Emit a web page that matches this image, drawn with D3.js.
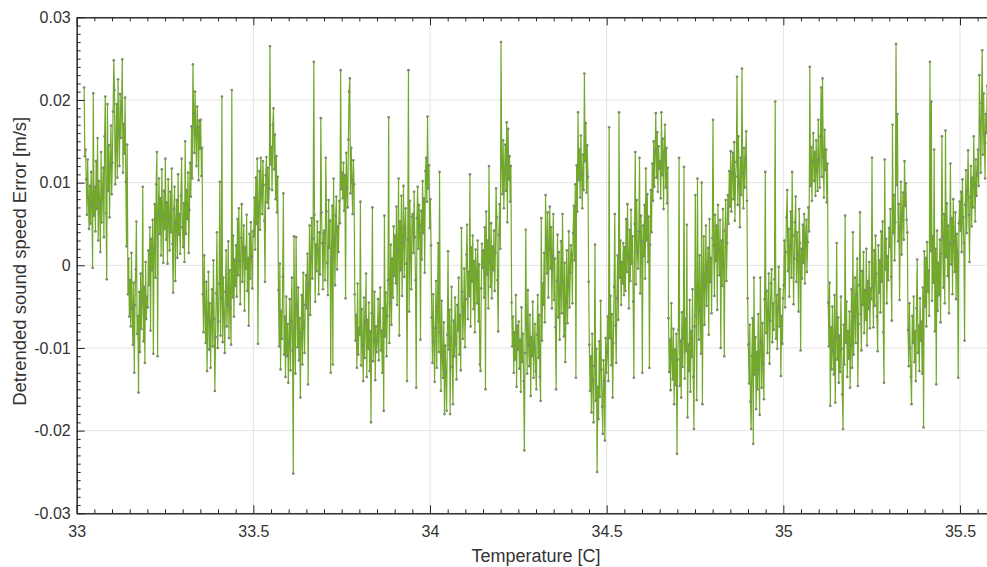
<!DOCTYPE html>
<html>
<head>
<meta charset="utf-8">
<script src="https://cdn.jsdelivr.net/npm/d3@7/dist/d3.min.js"></script>
<style>
  body { margin: 0; background: #fff; }
  svg { display: block; }
  text { font-family: "Liberation Sans", Arial, Helvetica, sans-serif; }
</style>
</head>
<body>
<svg id="chart" width="987" height="567"></svg>
<script>
// Temperature sweep: first sample and spacing between samples [°C]
const tempStart = 33.021;
const tempStep = 0.002;

// Detrended sound speed error per sample, in mm/s (one row ≈ 0.05 °C)
const speedErrorMm = [
  21.5, 13.2, 14.0, 10.4, 6.1, 12.8, 8.2, 4.4, 9.6, 5.0, 11.3, 7.2, -0.3, 20.8, 6.0,
  9.5, 4.1, 12.6, 6.8, 15.4, 3.0, 10.2, 7.5, 1.6, 13.7, 5.2, 8.9, 11.8, 3.4, 15.6, 20.4, 6.3, -1.7, 19.5, 9.0, 14.5, 5.8, 12.1, 16.9, 8.6,
  12.4, 18.6, 24.8, 21.2, 9.8, 14.1, 19.5, 10.6, 22.5, 16.3, 12.0, 20.7, 15.4, 18.9, 24.9, 11.2, 17.1, 13.5, 20.3, 10.1, 2.3, 14.6, -3.5, 0.8, -6.2,
  -1.8, -7.4, 1.5, -5.2, -9.6, -2.1, -13.0, -4.8, -0.5, 5.3, -8.3, -6.1, -15.4, -3.2, -10.5, -1.0, -7.7, -4.4, 9.5, -9.2, -2.6, -11.8, 0.4, -6.5, -3.8,
  -5.1, 1.8, -2.4, 4.6, -7.9, 3.2, -0.6, 5.5, -10.7, 2.1, 7.4, -1.5, 9.8, 13.7, -11.0, 6.2, 10.5, 3.8, 8.1, 1.2, 11.6, 5.9, 0.3, 9.0, 4.4,
  12.9, 3.1, 7.6, 0.2, 10.4, 5.5, 1.8, 8.9, 4.0, 11.7, 2.6, -3.3, 6.8, 9.5, -1.9, 5.1, 7.9, 0.9, 11.0, 3.7, 6.2, 1.4, 8.4, 12.9, 4.6,
  2.2, 7.5, 0.4, 15.0, 3.8, 9.1, 5.6, 11.2, 1.5, 6.7, 12.4, 8.3, 16.8, 10.5, 24.3, 18.4, 13.6, 21.0, 15.9, 12.0, 19.2, 16.7, 10.3, 17.5, 14.1,
  17.6, 10.8, 14.2, -3.5, -8.1, 1.2, -5.7, -9.4, -2.0, -12.8, -6.3, -0.8, -10.2, -4.6, -12.4, -7.0, -2.9, -9.8, 0.6, -6.5, -15.2, -8.7, -3.4, 4.0, -10.0,
  -6.8, -2.2, 10.1, -8.5, -4.0, 20.4, -9.3, -1.5, -6.0, -10.6, -3.2, 1.8, -7.4, -4.7, 2.9, -8.8, -0.6, -5.1, -9.6, 21.2, -3.9, 3.6, -6.2, 0.7, -2.5,
  2.4, -3.8, 5.6, -1.2, 6.9, 0.5, -4.7, 3.3, 7.4, -2.0, 1.7, 4.8, -5.5, 2.2, -0.4, 6.1, -3.1, 0.9, -7.3, 3.8, -1.6, 5.2, 1.0, -2.8, 4.1,
  3.5, 8.2, 1.9, 10.6, 5.0, 12.9, -9.5, 7.1, 11.4, 4.3, 13.0, 8.8, 6.2, 12.6, 9.7, 5.4, -2.0, 10.9, 13.1, 7.6, 11.8, 6.9, 9.3, 26.5, 12.2,
  14.3, 9.1, 17.0, 19.0, 11.6, 15.8, 8.0, 13.2, 6.4, 10.7, -3.0, -9.8, 0.2, -12.6, -5.5, -8.9, -1.4, 8.7, -10.8, -6.2, -13.5, -3.8, -11.0, -7.1, -14.2,
  -9.4, -4.1, -12.7, -6.8, -1.5, -10.3, -25.2, 3.5, -7.6, -13.1, 3.4, -5.0, -9.9, -2.7, -11.5, -6.4, -16.0, -8.2, -3.6, -12.0, -0.9, -7.3, -10.6, -4.8, -1.2,
  -5.2, 1.4, -14.4, -2.3, 4.8, -6.0, 0.9, 5.7, -1.6, 3.2, 24.6, 6.1, -4.4, 2.5, -0.7, 5.3, 1.8, -3.5, 4.0, -1.1, 17.8, 6.4, 2.7, -2.9, 3.9,
  4.2, -1.8, 13.0, 6.5, 0.3, -3.6, 7.9, 2.1, 5.4, -13.0, 1.0, 7.2, -12.0, 10.5, 3.3, -2.4, 6.0, 8.3, -0.5, 4.7, 1.6, 7.8, 5.1, 23.6, 9.2,
  11.2, 8.1, 12.4, 6.6, 10.9, -4.0, 13.6, 9.4, 7.0, 15.2, 21.0, 22.6, 8.7, 14.2, 10.1, 6.2, 12.7, 9.8, -3.5, -9.1, -6.0, -12.4, -2.2, -10.8, -7.6,
  -8.4, 7.7, -12.1, -5.3, -9.7, -14.0, -3.9, -11.2, -7.0, -1.0, -13.5, -6.6, -10.1, -4.5, -12.8, -8.0, -19.0, -5.8, 7.0, -11.6, -9.0, -3.2, -13.9, -7.4, -10.5,
  -9.2, -4.1, -11.5, -6.8, -2.7, -10.3, -7.9, -13.0, -5.2, -17.6, 6.0, -8.6, -3.3, -11.0, -6.1, -1.8, 17.9, -9.4, -4.6, 2.5, -7.2, 0.8, -3.9, 4.7, -1.3,
  3.6, -2.2, 7.1, -4.8, 1.9, 10.5, -8.5, 5.3, -0.6, 8.4, -3.7, 2.8, 9.6, -1.4, 4.4, 6.9, 0.2, -14.0, 3.1, 23.6, -5.6, 7.8, 1.1, -2.9, 5.9,
  6.2, 1.5, 8.9, 3.4, -1.8, -14.8, 5.7, 9.5, 2.0, 7.3, 4.8, -9.0, 6.6, 0.7, 10.2, 3.9, 8.1, -0.9, 11.4, 13.0, 7.7, 18.0, 9.3, 12.1, 4.5,
  8.0, 2.4, -6.3, -11.8, -3.5, -9.2, -14.1, -7.6, -1.9, -12.4, -5.0, 2.7, -10.5, 11.3, -8.1, -15.2, -4.3, -11.0, -13.6, -6.9, -18.0, -9.7, -12.9, -17.6, -8.4,
  1.7, -10.2, -5.4, -18.0, -8.8, -2.6, -12.3, -16.8, -6.7, -11.0, -3.9, -9.5, -13.8, -4.8, -7.9, -1.5, -10.8, -6.0, -12.7, 4.5, -3.2, -8.9, -5.6, -0.4, -9.9,
  -4.1, 1.3, 4.9, -6.5, -0.8, -3.7, 11.0, -7.4, 2.2, -2.0, 3.6, -5.3, 0.5, -8.1, 1.9, -1.2, -4.6, 3.0, -6.8, 0.1, -12.0, -12.8, -2.8, 2.6, -0.3,
  1.8, -3.9, 4.6, -15.0, 6.5, -1.1, 3.0, -5.2, 12.0, 0.4, -2.6, 5.1, -4.0, 2.3, -0.6, 4.2, -3.1, 1.5, 9.3, 5.8, -1.8, -8.0, 3.7, 7.4, 2.0,
  27.0, 12.4, 8.6, 15.1, 6.9, 11.3, 14.6, 9.0, 17.3, 5.2, 16.5, 10.4, 13.2, 7.7, 12.0, -4.5, -9.8, -6.2, -13.0, -8.1, -11.4, -3.6, -14.7, -7.3, -10.2,
  -6.8, -12.5, -9.0, -15.3, -5.1, -11.7, -8.3, -14.0, -22.4, -10.6, 4.3, -7.2, -13.1, -3.0, -9.6, -12.2, -6.0, -15.8, -8.7, -11.0, -4.4, -13.6, -9.9, -7.1, -12.8,
  -15.0, -8.4, -3.6, -11.2, -6.0, -13.5, -16.4, 5.7, -9.1, -2.2, -4.8, 1.5, -6.9, 8.5, 3.2, -1.0, 6.4, -3.9, 2.0, 7.1, -0.4, 4.6, -5.2, 1.2, 6.2,
  -4.2, 0.8, -7.5, -15.0, -1.9, 3.7, -6.3, 1.6, -9.0, -3.4, 2.9, -5.8, 6.2, -2.1, -8.6, 0.3, -11.7, -4.5, 1.8, -7.0, -2.5, 4.1, -5.1, -0.9, 2.4,
  1.4, -4.6, 3.9, 7.2, 0.6, 9.8, -13.6, 12.1, 6.5, 18.5, 10.3, 14.0, 8.2, 15.7, 11.0, 6.9, 13.4, 9.1, 23.2, 12.6, 17.2, 8.8, 14.5, 10.7, -2.0,
  -9.6, -15.2, -11.0, -17.8, -8.3, -13.9, -19.0, -12.2, 2.5, -16.4, -10.1, -25.0, -14.7, -18.6, -9.2, -15.9, -4.3, -12.6, -17.1, -20.4, -11.5, -14.1, -21.2, -8.8, -13.0,
  -10.5, -6.2, -14.0, 16.7, -8.8, -3.7, -12.1, -5.9, -16.0, -9.4, -2.6, 6.2, -7.3, -11.8, -4.0, 1.2, -6.6, 18.5, -1.5, 3.0, -4.8, 0.4, -2.2, 2.7, -3.6,
  2.2, -3.1, 5.6, -0.8, 7.4, 1.0, -5.2, 4.3, -1.9, 6.7, 0.2, 3.5, -4.4, -13.6, 5.0, 13.7, -2.3, 7.9, 1.6, -0.4, 4.1, 13.0, -3.4, 6.0, 2.9,
  -13.0, 4.8, 1.1, 7.3, -1.6, 11.7, 3.0, 8.6, 0.4, 5.9, -12.4, 2.5, 9.1, 4.0, 12.3, 7.8, 15.0, 9.5, 13.8, 18.4, 10.6, 16.1, 8.9, 14.4, 11.7,
  12.6, 8.1, 18.5, 10.9, 15.3, 6.8, 13.7, 17.0, 9.4, 14.2, 7.5, 11.8, -6.4, -12.9, -9.0, -15.1, -4.6, -11.3, -13.8, -7.7, -16.8, -10.2, -14.5, -8.3, -22.8,
  -11.4, -7.8, 13.0, -14.6, -9.1, -16.0, -5.7, -12.3, -8.8, 11.9, -13.7, -6.5, -10.4, 4.9, -18.4, -9.6, -12.8, -4.2, -15.3, -8.0, -11.1, -2.9, -13.5, -19.8, -7.4,
  8.5, -6.1, -16.3, 10.5, -3.4, -9.0, 1.2, -5.5, -10.7, 10.0, -16.8, -1.8, 3.5, -7.2, -2.6, 4.8, -4.9, -0.3, 2.1, -8.4, 5.6, -2.0, 0.9, -5.8, 3.3,
  17.6, 2.4, -3.7, 6.1, 0.5, 4.8, -5.4, 7.3, 1.9, -1.2, 5.5, -10.0, 3.0, -2.5, 6.8, 0.1, -11.0, 4.2, 7.9, -1.9, 2.7, 8.5, 5.0, 11.4, 7.1,
  13.8, 6.5, 11.2, 13.6, 8.0, 14.9, 5.4, 10.7, 12.5, 22.8, 7.3, 15.6, 9.9, 4.6, 13.0, 8.5, 23.8, 11.1, 6.9, 14.2, 9.4, 12.8, 16.2, 7.8, -4.0,
  -9.6, -14.3, -7.2, -16.5, -19.8, -11.0, -6.4, -21.6, -1.5, -13.2, -8.7, -17.4, -10.5, -15.0, -5.9, -12.6, -18.1, -1.5, -9.3, -14.8, -7.0, -12.0, -16.2, -4.1, 11.3,
  -8.2, -3.1, -10.6, -5.4, -1.0, -11.9, -6.7, -2.2, -0.5, -9.3, -4.6, -7.8, -1.7, 19.8, -8.9, -3.6, -10.1, -5.2, -0.2, -7.4, -2.9, -13.4, -6.1, -9.5, -4.0,
  -2.4, 3.0, -5.1, 1.6, 5.8, 9.1, -0.7, 4.4, -3.8, 2.3, 6.5, -1.5, 11.3, 3.6, -4.7, 0.8, 5.2, 8.3, -2.0, 4.0, 1.3, -5.6, 6.8, 2.7, -10.3,
  2.0, -1.6, 4.9, 0.3, 6.2, -2.2, 3.4, 5.5, -0.8, 2.8, 7.0, 4.1, 24.0, 9.6, 14.3, 7.8, 12.5, 16.0, 10.2, 13.7, 8.4, 15.1, 11.6, 9.0, 17.6,
  12.8, 9.4, 15.6, 21.5, 10.7, 22.6, 13.1, 8.2, 16.4, 11.5, 14.0, 7.6, 12.3, -4.5, -9.8, -2.1, -17.0, -7.5, -12.6, -5.0, -10.4, -13.2, -3.6, -16.6, -8.9,
  2.7, -11.4, -6.3, -14.2, -8.5, -12.9, -3.8, -10.1, -15.6, -19.8, -7.2, -12.0, 6.0, -9.4, -4.4, -13.5, -8.0, -11.3, -5.6, -14.8, -9.7, -2.9, -12.4, 4.0, -10.8,
  -6.2, -1.5, -9.4, -3.6, 0.8, -14.6, -7.1, -2.4, 6.4, -5.9, -10.3, -0.7, -4.8, 1.6, -8.2, -3.0, -6.6, 2.0, -9.7, -1.9, -5.3, 0.4, -7.6, -2.8, -4.1,
  13.0, -2.5, -7.5, 1.8, -4.9, 3.6, -1.0, -6.2, -10.4, 2.4, -3.3, 0.6, -5.7, 4.1, -2.0, 5.3, -8.1, -14.2, 12.8, -0.5, 3.2, -4.6, 1.1, -1.8, 4.5,
  2.2, 6.8, -1.4, -6.7, 17.0, 3.9, 8.5, 0.6, 5.2, 26.8, 9.7, 18.3, 2.9, 7.4, -4.2, 4.6, 10.1, 1.3, 6.0, 8.8, 3.1, 12.6, 7.2, 9.9, 5.5,
  4.0, -7.8, -12.2, -4.6, -10.0, -13.5, -16.8, -6.1, -9.4, -3.8, -11.7, -8.0, -14.0, -5.2, 0.7, -10.6, -7.3, -12.8, -4.0, -9.1, -6.8, -13.1, -2.7, -19.6, 1.7,
  -5.0, 0.9, -7.4, 2.8, -3.2, -0.6, -6.1, 24.6, 1.7, 19.8, -4.3, 3.5, -2.1, 14.0, -8.0, 2.0, -14.4, 4.2, -5.5, 0.3, -3.6, 3.1, -6.9, 1.4, 15.6,
  3.4, -2.7, 6.2, -4.6, 16.3, 1.0, 7.5, -1.3, 4.8, -5.8, 2.6, 12.3, 0.1, 5.7, -3.5, 8.0, 2.9, -0.8, 6.4, -4.1, 3.8, 1.5, -13.6, 5.1, 7.7,
  4.2, 8.9, 1.6, 10.4, 5.8, 2.7, -9.1, 7.3, 11.5, 3.9, 9.0, 13.9, 6.1, 0.4, 8.2, 12.0, 4.7, 10.6, 7.0, 15.6, 9.5, 5.3, 12.8, 8.4, 11.0,
  14.0, 9.6, 23.0, 17.5, 11.2, 19.6, 26.0, 13.4, 20.8, 15.9, 10.5, 18.3, 16.0, 21.7, 14.8
];

// Axis ticks
const xTickValues = [33, 33.5, 34, 34.5, 35, 35.5];
const xTickLabels = ["33", "33.5", "34", "34.5", "35", "35.5"];
const yTickValues = [-0.03, -0.02, -0.01, 0, 0.01, 0.02, 0.03];
const yTickLabels = ["-0.03", "-0.02", "-0.01", "0", "0.01", "0.02", "0.03"];

const xLabel = "Temperature [C]";
const yLabel = "Detrended sound speed Error [m/s]";

// Samples in chart units: temperature [°C] and error [m/s]
const samples = speedErrorMm.map((mm, i) => ({
  t: tempStart + i * tempStep,
  v: mm / 1000
}));

const svg = d3.select("#chart");
const plot = { left: 76.7, right: 995.3, top: 17.3, bottom: 513.3 };

const x = d3.scaleLinear().domain([33, 35.6]).range([plot.left, plot.right]);
const y = d3.scaleLinear().domain([-0.03, 0.03]).range([plot.bottom, plot.top]);

const axisColor = "#262626";
const textColor = "#333333";

// Grid at the major ticks
const grid = svg.append("g").attr("class", "grid");
grid.selectAll("line.gx").data(xTickValues).join("line")
  .attr("class", "gx")
  .attr("x1", d => x(d)).attr("x2", d => x(d))
  .attr("y1", plot.top).attr("y2", plot.bottom)
  .attr("stroke", "#e3e3e3").attr("stroke-width", 1);
grid.selectAll("line.gy").data(yTickValues).join("line")
  .attr("class", "gy")
  .attr("x1", plot.left).attr("x2", plot.right)
  .attr("y1", d => y(d)).attr("y2", d => y(d))
  .attr("stroke", "#e3e3e3").attr("stroke-width", 1);

// Data line with point markers, clipped to the axes box
svg.append("clipPath").attr("id", "plot-clip")
  .append("rect")
  .attr("x", plot.left).attr("y", plot.top)
  .attr("width", plot.right - plot.left).attr("height", plot.bottom - plot.top);

const series = svg.append("g").attr("clip-path", "url(#plot-clip)");

const line = d3.line().x(d => x(d.t)).y(d => y(d.v));
series.append("path")
  .datum(samples)
  .attr("d", line)
  .attr("fill", "none")
  .attr("stroke", "#72a82c")
  .attr("stroke-width", 1.2)
  .attr("stroke-linejoin", "round");

series.selectAll("circle").data(samples).join("circle")
  .attr("cx", d => x(d.t))
  .attr("cy", d => y(d.v))
  .attr("r", 1.35)
  .attr("fill", "#7f8c6a");

// Axes (ticks point inward, box style)
const xMinor = d3.range(33, 35.6001, 0.05).filter(v => Math.abs(v * 2 - Math.round(v * 2)) > 1e-6);
const yMinor = d3.range(-0.03, 0.03001, 0.001).filter(v => Math.abs(v * 100 - Math.round(v * 100)) > 1e-6);

function styleAxis(g) {
  g.select(".domain").attr("stroke", axisColor).attr("stroke-width", 1);
  g.selectAll(".tick line").attr("stroke", axisColor).attr("stroke-width", 1);
  g.selectAll(".tick text")
    .attr("fill", textColor)
    .style("font-size", "16px");
}

// bottom
svg.append("g").attr("transform", `translate(0,${plot.bottom})`)
  .call(d3.axisBottom(x).tickValues(xMinor).tickSizeInner(-4).tickSizeOuter(0).tickFormat(""))
  .call(styleAxis);
svg.append("g").attr("transform", `translate(0,${plot.bottom})`)
  .call(d3.axisBottom(x).tickValues(xTickValues).tickSizeInner(-8).tickSizeOuter(0)
    .tickPadding(12.8).tickFormat((d, i) => xTickLabels[i]))
  .call(styleAxis);

// top
svg.append("g").attr("transform", `translate(0,${plot.top})`)
  .call(d3.axisTop(x).tickValues(xMinor).tickSizeInner(-4).tickSizeOuter(0).tickFormat(""))
  .call(styleAxis);
svg.append("g").attr("transform", `translate(0,${plot.top})`)
  .call(d3.axisTop(x).tickValues(xTickValues).tickSizeInner(-8).tickSizeOuter(0).tickFormat(""))
  .call(styleAxis);

// left
svg.append("g").attr("transform", `translate(${plot.left},0)`)
  .call(d3.axisLeft(y).tickValues(yMinor).tickSizeInner(-4).tickSizeOuter(0).tickFormat(""))
  .call(styleAxis);
svg.append("g").attr("transform", `translate(${plot.left},0)`)
  .call(d3.axisLeft(y).tickValues(yTickValues).tickSizeInner(-8).tickSizeOuter(0)
    .tickPadding(6).tickFormat((d, i) => yTickLabels[i]))
  .call(styleAxis);

// right
svg.append("g").attr("transform", `translate(${plot.right},0)`)
  .call(d3.axisRight(y).tickValues(yTickValues).tickSizeInner(-8).tickSizeOuter(0).tickFormat(""))
  .call(styleAxis);

// Axis titles
svg.append("text")
  .attr("x", (plot.left + plot.right) / 2)
  .attr("y", 562)
  .attr("text-anchor", "middle")
  .attr("fill", textColor)
  .style("font-size", "18px")
  .text(xLabel);

svg.append("text")
  .attr("transform", `translate(26,${(plot.top + plot.bottom) / 2 - 4}) rotate(-90)`)
  .attr("text-anchor", "middle")
  .attr("fill", textColor)
  .style("font-size", "18.5px")
  .text(yLabel);
</script>
</body>
</html>
